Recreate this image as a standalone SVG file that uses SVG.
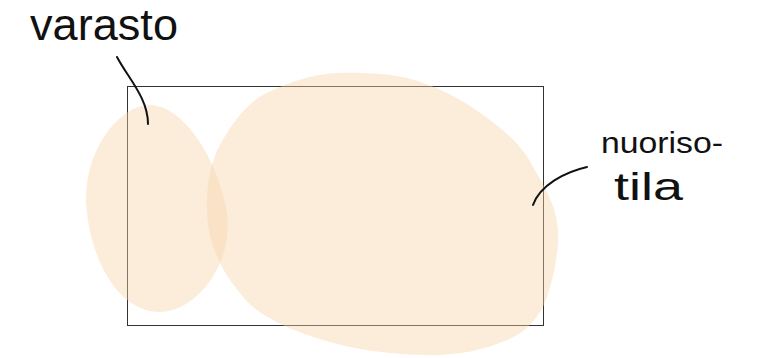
<svg xmlns="http://www.w3.org/2000/svg" width="760" height="358" viewBox="0 0 760 358">
<style>
.blob{fill:#F9D3A9;fill-opacity:0.42;stroke:none}
.lbl{font-family:"Liberation Sans",Arial,sans-serif;fill:#111;font-weight:normal}
.lead{fill:none;stroke:#111;stroke-width:2;stroke-linecap:round}
</style>
<rect width="760" height="358" fill="#fff"/>
<g id="frame"><rect x="127.5" y="86.5" width="416" height="239" fill="none" stroke="#333" stroke-width="1"/></g>
<g id="varasto">
<path class="blob" d="M152,105 C185,108 218,160 227,213 C234,265 195,312 160,312 C118,312 90,260 86,203 C84,150 120,103 152,105 Z"/>
<text class="lbl" x="30" y="40" font-size="44" textLength="148" lengthAdjust="spacingAndGlyphs">varasto</text>
</g>
<g id="nuorisotila">
<path class="blob" d="M337,73 C380,72 405,76 423,83 C450,92 470,105 490,120 C510,135 525,150 533,167 C550,195 560,215 558,243 C556,270 550,290 543,307 C533,325 520,335 507,340 C480,352 450,356 423,355 C390,354 355,350 323,340 C290,330 255,315 240,293 C220,270 207,240 207,210 C206,180 212,155 227,133 C240,112 255,97 273,90 C295,80 315,74 337,73 Z"/>
<text class="lbl" x="601" y="153" font-size="30" textLength="122" lengthAdjust="spacingAndGlyphs">nuoriso-</text>
<text class="lbl" x="614" y="200" font-size="38" textLength="69" lengthAdjust="spacingAndGlyphs">tila</text>
</g>
<g id="connectors">
<path class="lead" d="M117,57 C128,78 148,98 148,124"/>
<path class="lead" d="M587,167 C565,172 540,185 533,205"/>
</g>
</svg>
